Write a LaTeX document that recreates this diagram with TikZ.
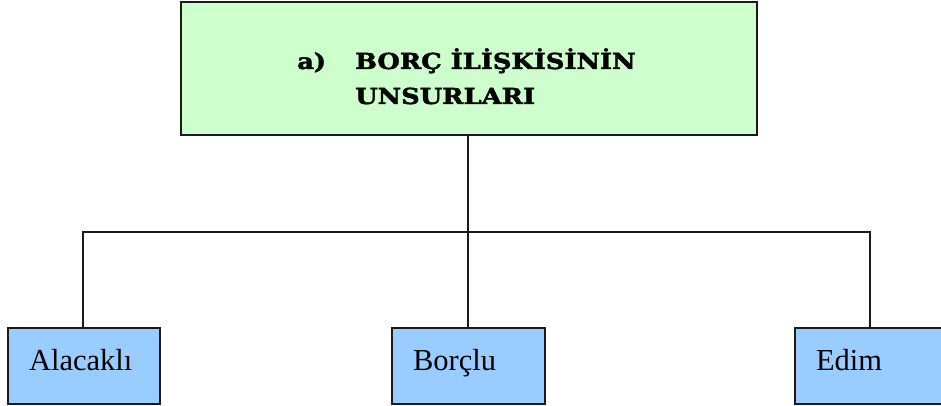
\documentclass[tikz,border=0pt]{standalone}
\usepackage{fontspec}
\setmainfont{Liberation Serif}
\newfontfamily\titlefont[FakeStretch=1.17,FakeBold=2]{DejaVu Serif}
\definecolor{topgreen}{HTML}{CCFFCC}
\definecolor{leafblue}{HTML}{99CCFF}
\definecolor{edge}{HTML}{1A1A1A}
\begin{document}
\begin{tikzpicture}[x=1pt,y=-1pt,
  boxline/.style={draw=edge,line width=2pt},
  conn/.style={draw=edge,line width=1.8pt},
  leaf/.style={boxline,fill=leafblue,rectangle,minimum height=76pt,inner xsep=21pt,inner ysep=0pt,
    text height=20pt,text depth=12pt,font=\fontsize{30.5}{30}\selectfont,anchor=west},
  titletxt/.style={font=\titlefont\bfseries\fontsize{22}{22}\selectfont,anchor=base west,inner sep=0pt}]
\useasboundingbox (0,0) rectangle (941,406);
\node[boxline,fill=topgreen,rectangle,minimum width=576pt,minimum height=133pt,anchor=north west,inner sep=0pt] (top) at (180,1) {};
\node[titletxt] (ta) at (297,69) {a)};
\node[titletxt] (tb) at (355,69) {BORÇ İLİŞKİSİNİN};
\node[titletxt] (tc) at (355,104) {UNSURLARI};
\node[leaf,minimum width=152pt,text width=110pt] (a) at (7,366) {Alacaklı};
\node[leaf,minimum width=153pt,text width=111pt] (b) at (391,366) {Borçlu};
\node[leaf,minimum width=147pt,text width=105pt] (e) at (794,366) {Edim};
\coordinate (j) at (468,232);
\coordinate (al) at (83,232);
\coordinate (er) at (870,232);
\draw[conn] (top.south -| j) -- (j);
\draw[conn] (j) -- (b.north -| j);
\draw[conn] (a.north -| al) -- (al) -- (er) -- (e.north -| er);
\end{tikzpicture}
\end{document}
